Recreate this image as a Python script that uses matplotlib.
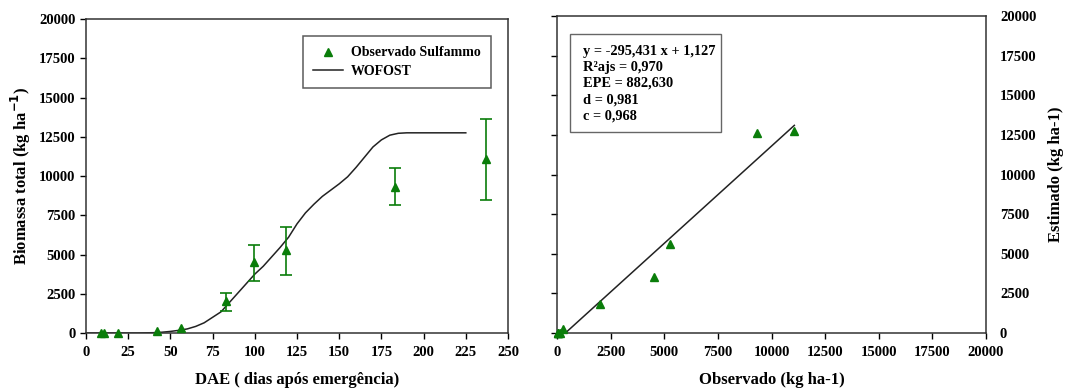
import matplotlib
matplotlib.use("Agg")
import matplotlib.pyplot as plt
from matplotlib.patches import Rectangle
import numpy as np

# ---- data ----
obs_days = [8.7, 10.9, 18.9, 42.2, 56.2, 83.1, 99.4, 118.2, 183.3, 236.8]
obs_biomass = [30, 30, 30, 120, 300, 2020, 4530, 5270, 9310, 11090]
err_low = [30, 30, 30, 120, 300, 1400, 3340, 3720, 8140, 8500]
err_high = [30, 30, 30, 120, 300, 2550, 5630, 6760, 10480, 13620]

wofost_days = [0, 30, 40, 45, 50, 55, 60, 65, 70, 75, 80, 85, 90, 95, 100, 105, 110,
               115, 120, 125, 130, 135, 140, 145, 150, 155, 160, 165, 170, 175, 180,
               185, 190, 225]
wofost_biomass = [0, 0, 20, 50, 100, 170, 260, 420, 650, 1000, 1350, 1950, 2550, 3150,
                  3750, 4250, 4850, 5450, 6100, 6950, 7650, 8200, 8700, 9100, 9500,
                  9950, 10550, 11200, 11850, 12300, 12600, 12720, 12750, 12750]

scatter_obs = [30, 30, 30, 120, 300, 2020, 4510, 5270, 9320, 11060]
scatter_est = [0, 0, 0, 30, 250, 1810, 3530, 5640, 12640, 12740]
fit_x = [390, 11065]
fit_y = [0, 13100]

stats_text = ["y = -295,431 x + 1,127", "R\u00b2ajs = 0,970", "EPE = 882,630",
              "d = 0,981", "c = 0,968"]

xticks_left = [0, 25, 50, 75, 100, 125, 150, 175, 200, 225, 250]
yticks = [0, 2500, 5000, 7500, 10000, 12500, 15000, 17500, 20000]
xticks_right = [0, 2500, 5000, 7500, 10000, 12500, 15000, 17500, 20000]

# ---- style ----
plt.rcParams['font.family'] = ['Liberation Serif', 'DejaVu Serif']
plt.rcParams['font.weight'] = 'bold'
green = '#0a7d0a'
tick_fs = 10.5
label_fs = 12

fig = plt.figure(figsize=(10.73, 3.92), dpi=100)

# ---- left panel ----
ax1 = fig.add_axes([86/1073, 1-333/392, (508-86)/1073, (333-19)/392])
lo = np.array(obs_biomass) - np.array(err_low)
hi = np.array(err_high) - np.array(obs_biomass)
ax1.errorbar(obs_days[5:], obs_biomass[5:], yerr=[lo[5:], hi[5:]], fmt='none',
             ecolor=green, elinewidth=1.2, capsize=4, capthick=1.2, zorder=3)
ax1.plot(obs_days, obs_biomass, linestyle='none', marker='^', color=green, markersize=6,
         label='Observado Sulfammo', zorder=4, clip_on=False)
ax1.plot(wofost_days, wofost_biomass, color='#222222', linewidth=1.1, label='WOFOST', zorder=2)
ax1.set_xlim(0, 250)
ax1.set_ylim(0, 20000)
ax1.set_xticks(xticks_left)
ax1.set_yticks(yticks)
ax1.tick_params(direction='out', labelsize=tick_fs, length=4, width=1)
ax1.tick_params(axis='x', pad=5)
for lab in ax1.get_xticklabels() + ax1.get_yticklabels():
    lab.set_fontweight('bold')
ax1.set_xlabel('DAE ( dias após emergência)', fontsize=label_fs, fontweight='bold', labelpad=10)
ax1.set_ylabel('Biomassa total (kg ha$^{\\mathbf{-1}}$)', fontsize=label_fs, fontweight='bold', labelpad=4)
for s in ax1.spines.values():
    s.set_color('#333333')
    s.set_linewidth(1.1)
leg = ax1.legend(loc='upper right', bbox_to_anchor=(0.96, 0.946), frameon=True,
                 fancybox=False, edgecolor='#333333', handlelength=2.1, borderpad=0.75,
                 handletextpad=0.6, labelspacing=0.4, borderaxespad=0,
                 prop={'weight': 'bold', 'size': 10})
leg.get_frame().set_linewidth(1.1)

# ---- right panel ----
ax2 = fig.add_axes([557/1073, 1-333/392, (986-557)/1073, (333-16)/392])
ax2.plot(fit_x, fit_y, color='#222222', linewidth=1.1, zorder=2)
ax2.plot(scatter_obs, scatter_est, linestyle='none', marker='^', color=green, markersize=6,
         zorder=4, clip_on=False)
ax2.set_xlim(0, 20000)
ax2.set_ylim(0, 20000)
ax2.set_xticks(xticks_right)
ax2.set_yticks(yticks)
ax2.tick_params(axis='y', direction='out', left=True, right=False, labelleft=False,
                labelright=True, labelsize=tick_fs, length=4, width=1, pad=6)
ax2.tick_params(axis='x', direction='out', labelsize=tick_fs, length=4, width=1, pad=5)
for lab in ax2.get_xticklabels() + ax2.get_yticklabels():
    lab.set_fontweight('bold')
ax2.yaxis.set_label_position('right')
ax2.set_xlabel('Observado (kg ha-1)', fontsize=label_fs, fontweight='bold', labelpad=10)
ax2.set_ylabel('Estimado (kg ha-1)', fontsize=label_fs, fontweight='bold', labelpad=8)
for s in ax2.spines.values():
    s.set_color('#333333')
    s.set_linewidth(1.1)
ax2.add_patch(Rectangle((0.030, 0.634), 0.352, 0.309, transform=ax2.transAxes,
                        facecolor='white', edgecolor='#666666', linewidth=1, zorder=5))
ax2.text(0.061, 0.91, "\n".join(stats_text), transform=ax2.transAxes, fontsize=10.4,
         fontweight='bold', va='top', ha='left', linespacing=1.32, zorder=6)

fig.savefig('out.png', dpi=100)
